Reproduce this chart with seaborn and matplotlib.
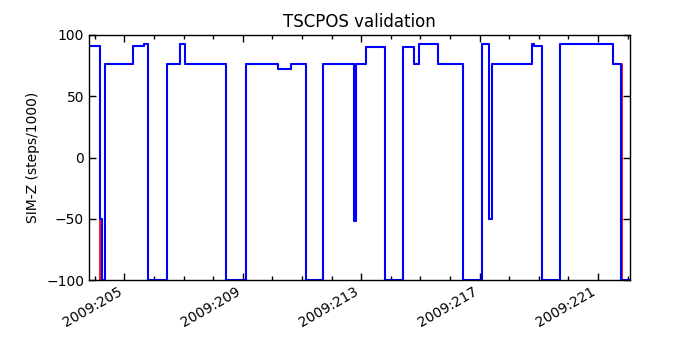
import matplotlib
matplotlib.use('Agg')
import matplotlib.pyplot as plt
from matplotlib.ticker import MultipleLocator, FuncFormatter
import seaborn as sns
import pandas as pd

# Thời gian (ngày trong năm 2009) và giá trị SIM-Z, dạng bậc thang
blue_t = [203.80, 204.179, 204.236, 204.334, 205.304, 205.666, 205.811, 206.432, 206.882, 207.061,
          208.436, 209.101, 210.203, 210.622, 211.128, 211.723, 212.76, 212.828, 213.166, 213.807,
          214.426, 214.787, 214.966, 215.608, 216.453, 217.074, 217.331, 217.432, 218.764, 218.841,
          219.101, 219.72, 221.5, 221.791, 222.08]
blue_v = [91, -50, -99.6, 76, 91, 93, -99.6, 76, 93, 76,
          -99.6, 76, 72, 76, -99.6, 76, -52, 76, 90, -99.6,
          90, 76, 93, 76, -99.6, 93, -50, 76, 93, 91,
          -99.6, 93, 76, -99.6, -99.6]

red_t = [203.80, 204.170, 204.330, 205.304, 205.666, 205.811, 206.432, 206.882, 207.061, 208.436,
         209.101, 210.203, 210.622, 211.135, 211.723, 212.770, 212.830, 213.166, 213.815, 214.426,
         214.787, 214.966, 215.608, 216.453, 217.080, 217.331, 217.432, 218.764, 218.841, 219.101,
         219.72, 221.5, 221.800, 222.08]
red_v = [91, -99.6, 76, 91, 93, -99.6, 76, 93, 76, -99.6,
         76, 72, 76, -99.6, 76, -47, 76, 90, -99.6, 90,
         76, 93, 76, -99.6, 93, -50, 76, 93, 91, -99.6,
         93, 76, -99.6, -99.6]

year = 2009
major_step = 4

sns.set_style('white', rc={
    'axes.edgecolor': 'black',
    'text.color': 'black', 'axes.labelcolor': 'black',
    'xtick.color': 'black', 'ytick.color': 'black',
    'xtick.direction': 'in', 'ytick.direction': 'in',
    'xtick.top': True, 'ytick.right': True,
    'xtick.bottom': True, 'ytick.left': True,
})
plt.rcParams['font.family'] = ['DejaVu Sans']
plt.rcParams['font.size'] = 10

red_df = pd.DataFrame({'time': red_t, 'simz': red_v})
blue_df = pd.DataFrame({'time': blue_t, 'simz': blue_v})

fig, ax = plt.subplots(figsize=(7, 3.5), dpi=100)
fig.subplots_adjust(left=0.127, right=0.9, top=0.9, bottom=0.2)

sns.lineplot(data=red_df, x='time', y='simz', color='r', lw=1.3, estimator=None,
             drawstyle='steps-post', ax=ax)
sns.lineplot(data=blue_df, x='time', y='simz', color='b', lw=1.5, estimator=None,
             drawstyle='steps-post', ax=ax)

ax.set_xlim(blue_t[0], blue_t[-1])
ax.set_ylim(-100, 100)
ax.yaxis.set_major_locator(MultipleLocator(50))
ax.xaxis.set_major_locator(MultipleLocator(major_step, offset=1))
ax.xaxis.set_minor_locator(MultipleLocator(1))
ax.xaxis.set_major_formatter(FuncFormatter(lambda x, pos: f"{year}:{int(round(x)):03d}"))
ax.tick_params(which='major', length=5, width=1, labelsize=10)
ax.tick_params(which='minor', length=3, width=1)
ax.tick_params(axis='x', which='both', top=True, bottom=True)
plt.setp(ax.get_xticklabels(), rotation=30, ha='right')
for s in ax.spines.values():
    s.set_linewidth(1)

ax.set_title('TSCPOS validation', fontsize=12, color='black')
ax.set_xlabel('')
ax.set_ylabel('SIM-Z (steps/1000)', fontsize=10)

fig.savefig('out.png', dpi=100)
plt.close(fig)
